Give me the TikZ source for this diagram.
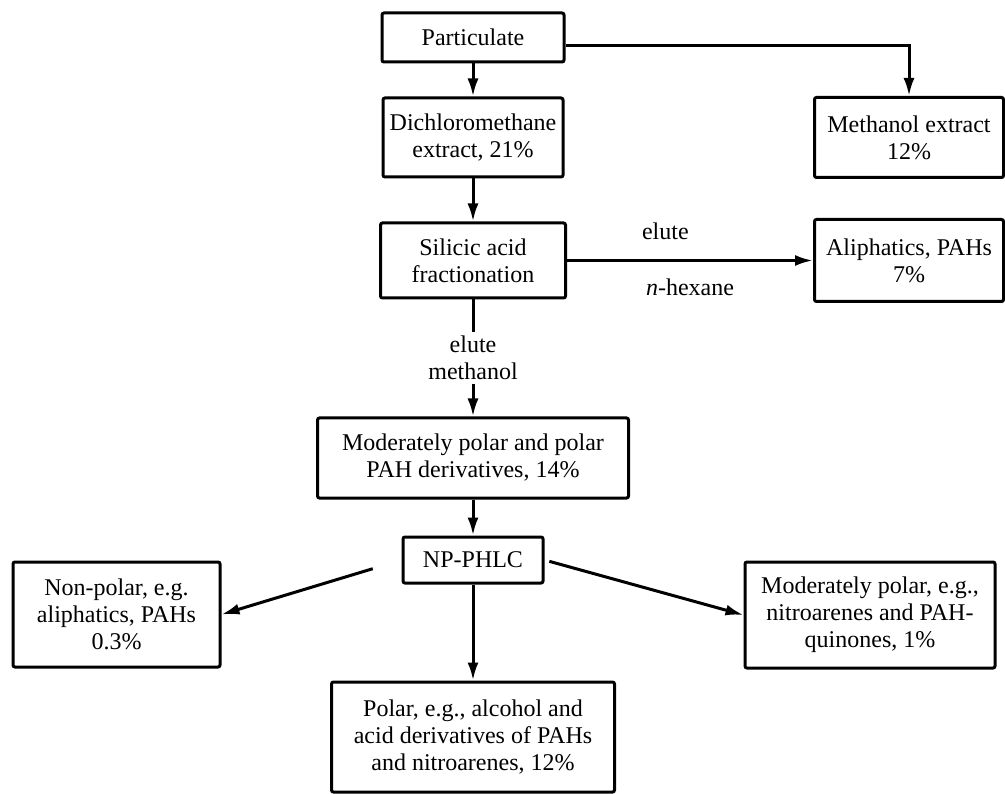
\documentclass[tikz,border=0pt]{standalone}
\usepackage{fontspec}
\setmainfont{Liberation Serif}
\usetikzlibrary{arrows.meta,positioning}

\begin{document}
\begin{tikzpicture}[->,>={Latex[length=18pt,width=11pt]},line width=3pt,on grid,
                    font=\fontsize{24}{27}\selectfont,
                    main node/.style={rectangle,draw,rounded corners=2pt,align=center,inner sep=0pt}]
  \useasboundingbox (0,0) rectangle (1005pt,-794pt);
  \node[main node,minimum width=182pt,minimum height=49pt] (part) at (473pt,-37.5pt) {Particulate};
  \node[main node,minimum width=180pt,minimum height=79pt] (dcm) [below=100pt of part] {Dichloromethane\\extract, 21\%};
  \node[main node,minimum width=189pt,minimum height=80pt] (meoh) [right=436pt of dcm] {Methanol extract\\12\%};
  \node[main node,minimum width=185pt,minimum height=75pt] (sil) [below=123pt of dcm] {Silicic acid\\fractionation};
  \node[main node,minimum width=189pt,minimum height=82pt] (ali) [right=436pt of sil] {Aliphatics, PAHs\\7\%};
  \node[main node,minimum width=311pt,minimum height=80pt] (mod) [below=197.5pt of sil] {Moderately polar and polar\\PAH derivatives, 14\%};
  \node[main node,minimum width=140pt,minimum height=46pt] (np) [below=102pt of mod] {NP-PHLC};
  \node[main node,minimum width=207pt,minimum height=105pt] (nonpol) [below left=54.5pt and 356.5pt of np] {Non-polar, e.g.\\aliphatics, PAHs\\0.3\%};
  \node[main node,minimum width=250pt,minimum height=106pt] (modpol) [below right=55pt and 397pt of np] {Moderately polar, e.g.,\\nitroarenes and PAH-\\quinones, 1\%};
  \node[main node,minimum width=283pt,minimum height=110pt] (polar) [below=177pt of np] {Polar, e.g., alcohol and\\acid derivatives of PAHs\\and nitroarenes, 12\%};

  \path[every node/.style={align=center}]
    (part)
        edge node {} (dcm)
    ([yshift=-8pt]part.east)
        edge[to path={-| (\tikztotarget)}] node {} (meoh.north)
    (dcm)
        edge node {} (sil)
    (sil)
        edge node[above=16pt,pos=0.4] {elute} node[below=14pt] {\textit{n}-hexane} (ali)
        edge node[fill=white,inner sep=4pt] {elute\\methanol} (mod)
    (mod)
        edge node {} (np)
    (np.west)
        edge[shorten <=30pt] node {} (nonpol.east)
    (np.east)
        edge[shorten <=5pt] node {} (modpol.west)
    (np)
        edge node {} (polar)
    ;
\end{tikzpicture}
\end{document}
